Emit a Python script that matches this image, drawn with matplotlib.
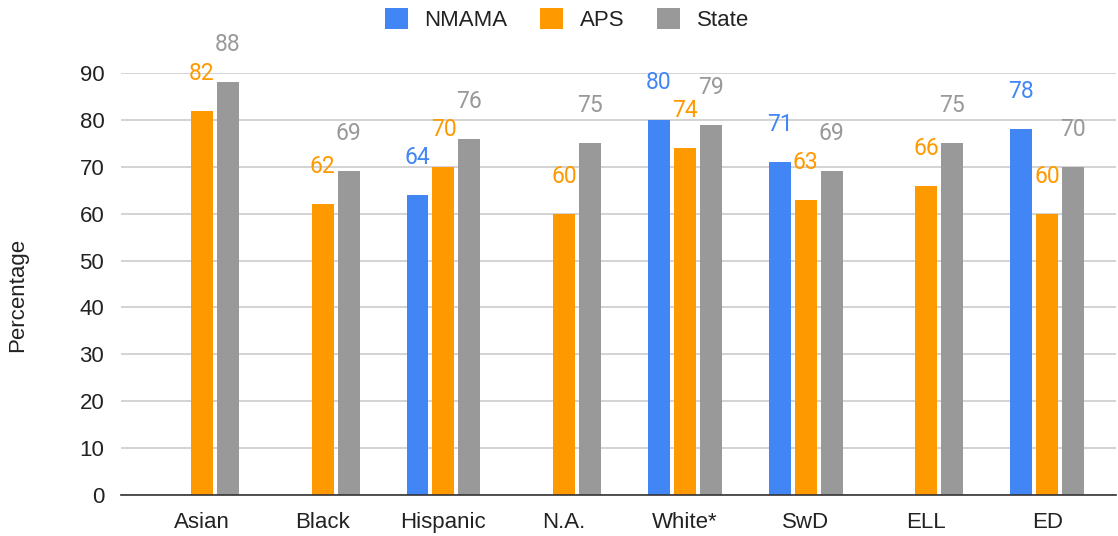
import numpy as np
import matplotlib.pyplot as plt
from matplotlib.patches import Patch

plt.rcParams['font.family'] = ['Liberation Sans', 'DejaVu Sans']

groups = ['Asian', 'Black', 'Hispanic', 'N.A.', 'White*', 'SwD', 'ELL', 'ED']
nmama = [None, None, 64, None, 80, 71, None, 78]
aps = [82, 62, 70, 60, 74, 63, 66, 60]
state = [88, 69, 76, 75, 79, 69, 75, 70]

series = [('NMAMA', nmama, '#4285f4'),
          ('APS', aps, '#ff9900'),
          ('State', state, '#999999')]

fig = plt.figure(figsize=(11.18, 5.36), dpi=100)
ax = fig.add_axes([0.1082, 0.0765, 0.8900, 0.7873])

x = np.arange(len(groups))
step = 0.215
w = 0.182

for i, (name, vals, col) in enumerate(series):
    for j, v in enumerate(vals):
        if v is None:
            continue
        xp = x[j] + (i - 1) * step
        ax.bar(xp, v, width=w, color=col, zorder=3)
        ax.annotate(str(v), (xp, v), xytext=(0, 27), textcoords='offset points',
                    ha='center', va='center', color=col, fontsize=16.5,
                    family=['Roboto', 'DejaVu Sans'], annotation_clip=False)

ax.set_xlim(-0.671, 7.57)
ax.set_ylim(0, 90)
ax.set_yticks(range(0, 91, 10))
ax.set_xticks(x)
ax.set_xticklabels(groups)
ax.tick_params(axis='both', length=0, labelsize=16, colors='#222222')
ax.tick_params(axis='y', pad=12)
ax.tick_params(axis='x', pad=12)
ax.grid(axis='y', color='#cccccc', linewidth=1.2, zorder=0)
for s in ['top', 'right', 'left']:
    ax.spines[s].set_visible(False)
ax.spines['bottom'].set_color('#333333')
ax.spines['bottom'].set_linewidth(1.2)
ax.spines['bottom'].set_zorder(4)

fig.text(0.016, 0.45, 'Percentage', rotation=90, ha='center', va='center',
         fontsize=16, color='#222222')

handles = [Patch(facecolor=c, label=n) for n, _, c in series]
fig.legend(handles=handles, loc='upper center', bbox_to_anchor=(0.507, 1.022),
           ncol=3, frameon=False, fontsize=16, handlelength=1.05, handleheight=1.05,
           columnspacing=1.45, handletextpad=0.75, labelcolor='#222222')

fig.savefig('out.png', dpi=100)
